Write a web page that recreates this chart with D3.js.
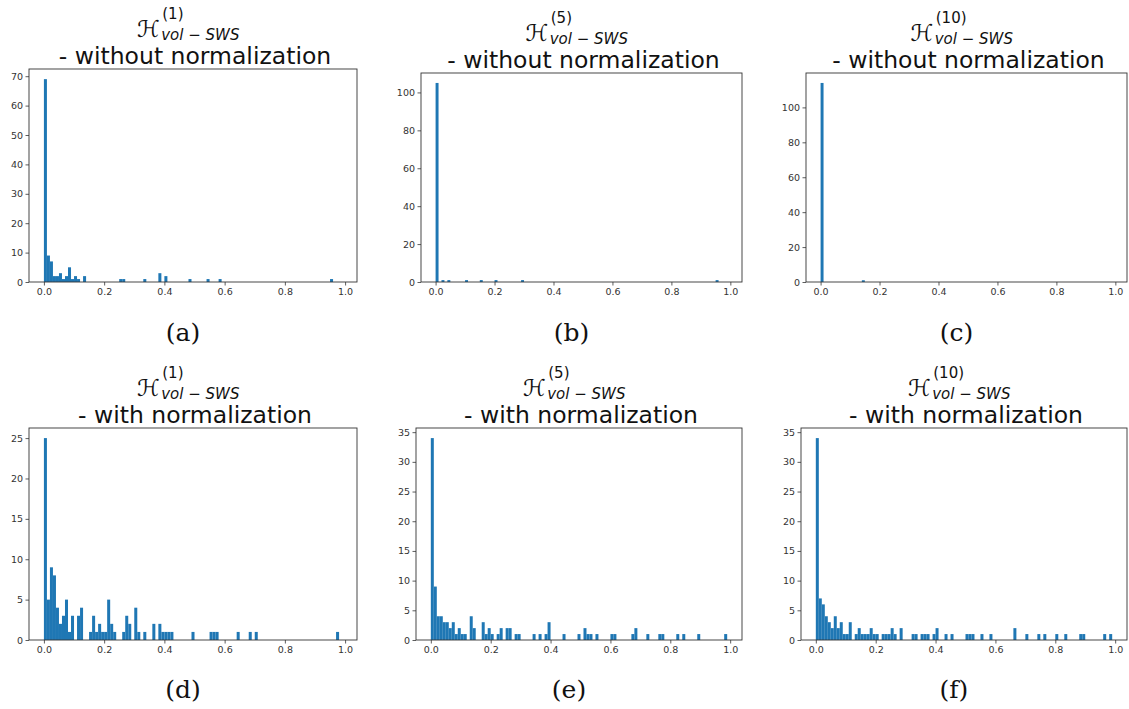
<!DOCTYPE html>
<html><head><meta charset="utf-8">
<script src="https://cdn.jsdelivr.net/npm/d3@7"></script>
<style>body{margin:0;background:#fff}svg{display:block}</style>
</head><body>
<svg id="chart" width="1129" height="709"></svg>
<script>
// ---------- data (bin left edges and counts; bins are 0.01 wide) ----------
const binWidth = 0.01;
const xTicks = [0.0, 0.2, 0.4, 0.6, 0.8, 1.0];

const aStarts = [0.00,0.01,0.02,0.03,0.04,0.05,0.06,0.07,0.08,0.09,0.10,0.11,0.13,0.25,0.26,0.33,0.38,0.40,0.48,0.54,0.58,0.95];
const aCounts = [69,9,7,2,2,3,1,2,5,1,2,1,2,1,1,1,3,2,1,1,1,1];
const aYTicks = [0,10,20,30,40,50,60,70];

const bStarts = [0.00,0.02,0.04,0.10,0.15,0.20,0.29,0.95];
const bCounts = [105,1,1,1,1,1,1,1];
const bYTicks = [0,20,40,60,80,100];

const cStarts = [0.00,0.14];
const cCounts = [114,1];
const cYTicks = [0,20,40,60,80,100];

const dStarts = [0.00,0.01,0.02,0.03,0.04,0.05,0.06,0.07,0.08,0.09,0.11,0.12,0.15,0.16,0.17,0.18,0.19,0.20,0.21,0.22,0.23,0.26,0.27,0.28,0.30,0.31,0.33,0.36,0.38,0.39,0.40,0.41,0.42,0.49,0.55,0.56,0.57,0.64,0.68,0.70,0.97];
const dCounts = [25,5,9,8,4,2,3,5,1,3,3,4,1,3,1,2,1,1,5,2,1,1,3,2,4,1,1,2,2,1,1,1,1,1,1,1,1,1,1,1,1];
const dYTicks = [0,5,10,15,20,25];

const eStarts = [0.00,0.01,0.02,0.03,0.04,0.05,0.06,0.07,0.08,0.09,0.10,0.11,0.13,0.14,0.17,0.18,0.19,0.20,0.22,0.23,0.25,0.26,0.28,0.29,0.34,0.36,0.38,0.39,0.44,0.49,0.51,0.52,0.53,0.55,0.60,0.61,0.67,0.68,0.72,0.76,0.77,0.82,0.84,0.89,0.98];
const eCounts = [34,9,4,4,3,3,2,3,1,2,1,1,4,2,3,1,2,1,1,2,2,2,1,1,1,1,1,3,1,1,2,1,1,1,1,1,1,2,1,1,1,1,1,1,1];
const eYTicks = [0,5,10,15,20,25,30,35];

const fStarts = [0.00,0.01,0.02,0.03,0.04,0.05,0.06,0.07,0.08,0.09,0.10,0.11,0.13,0.14,0.15,0.16,0.17,0.18,0.19,0.20,0.22,0.23,0.24,0.25,0.26,0.28,0.32,0.33,0.35,0.36,0.37,0.39,0.40,0.43,0.45,0.50,0.51,0.52,0.55,0.58,0.66,0.70,0.74,0.76,0.80,0.83,0.88,0.89,0.96,0.98];
const fCounts = [34,7,6,4,3,2,4,2,3,1,1,3,1,2,1,1,1,2,1,1,1,1,1,2,1,2,1,1,1,1,1,1,2,1,1,1,1,1,1,1,2,1,1,1,1,1,1,1,1,1];
const fYTicks = [0,5,10,15,20,25,30,35];

const supLabels = ["(1)","(5)","(10)","(1)","(5)","(10)"];
const subLabel = "vol \u2212 SWS";
const line2Labels = ["- without normalization","- without normalization","- without normalization",
                     "- with normalization","- with normalization","- with normalization"];
const captions = ["(a)","(b)","(c)","(d)","(e)","(f)"];

// ---------- layout ----------
const layout = [
  {l:29,  r:357,  t:69,  b:282, capY:341},
  {l:421, r:742,  t:73,  b:282, capY:341},
  {l:806, r:1127, t:73,  b:282, capY:341},
  {l:29,  r:357,  t:428, b:640, capY:698},
  {l:416, r:742,  t:428, b:640, capY:698},
  {l:801, r:1127, t:428, b:640, capY:698}
];
const series = [
  {starts:aStarts, counts:aCounts, yt:aYTicks},
  {starts:bStarts, counts:bCounts, yt:bYTicks},
  {starts:cStarts, counts:cCounts, yt:cYTicks},
  {starts:dStarts, counts:dCounts, yt:dYTicks},
  {starts:eStarts, counts:eCounts, yt:eYTicks},
  {starts:fStarts, counts:fCounts, yt:fYTicks}
];

const svg = d3.select("#chart");
svg.append("rect").attr("width",1129).attr("height",709).attr("fill","#fff");

series.forEach((s, i) => {
  const L = layout[i];
  const g = svg.append("g");
  const x = d3.scaleLinear().domain([-0.0495, 1.0395]).range([L.l, L.r]);
  const ymax = d3.max(s.counts) * 1.05;
  const y = d3.scaleLinear().domain([0, ymax]).range([L.b, L.t]);

  const bins = s.starts.map((st, k) => ({x0: st, x1: st + binWidth, n: s.counts[k]}));
  g.selectAll("rect.bar").data(bins).enter().append("rect")
    .attr("class","bar")
    .attr("x", d => x(d.x0))
    .attr("width", d => x(d.x1) - x(d.x0))
    .attr("y", d => y(d.n))
    .attr("height", d => y(0) - y(d.n))
    .attr("fill", "#1f77b4");

  const xa = g.append("g").attr("transform", `translate(0,${L.b})`)
    .call(d3.axisBottom(x).tickValues(xTicks).tickFormat(d3.format(".1f")).tickSize(3.5).tickPadding(2.5));
  const ya = g.append("g").attr("transform", `translate(${L.l},0)`)
    .call(d3.axisLeft(y).tickValues(s.yt).tickFormat(d3.format("d")).tickSize(3.5).tickPadding(2.5));
  [xa, ya].forEach(a => {
    a.select(".domain").remove();
    a.selectAll("line").attr("stroke","#333").attr("stroke-width",0.8);
    a.selectAll("text").attr("fill","#333").style("font-family","'DejaVu Sans'").style("font-size","9.5px");
  });

  g.append("rect").attr("x", L.l).attr("y", L.t).attr("width", L.r - L.l).attr("height", L.b - L.t)
    .attr("fill","none").attr("stroke","#333").attr("stroke-width",0.9);

  const cx = (L.l + L.r) / 2;
  // math title line: calligraphic H with superscript and subscript
  const hx = cx - 56;
  const H = g.append("text").attr("x", hx).attr("y", L.t - 32)
    .style("font-family","'DejaVu Sans'").style("font-size","23px").attr("fill","#111").text("\u210B");
  const hw = H.node().getBBox().width;
  const sx = hx + Math.max(hw, 14) + 1.5;
  g.append("text").attr("x", sx + 1).attr("y", L.t - 50)
    .style("font-family","'DejaVu Sans'").style("font-size","15px").attr("fill","#111").text(supLabels[i]);
  g.append("text").attr("x", sx).attr("y", L.t - 29)
    .style("font-family","'DejaVu Sans'").style("font-style","italic").style("font-size","15px").attr("fill","#111").text(subLabel);
  // second title line
  g.append("text").attr("x", cx + 2).attr("y", L.t - 5).attr("text-anchor","middle")
    .style("font-family","'DejaVu Sans'").style("font-size","23.5px").attr("fill","#111").text(line2Labels[i]);
  // caption
  g.append("text").attr("x", cx - 10).attr("y", L.capY).attr("text-anchor","middle")
    .style("font-family","'DejaVu Serif'").style("font-size","25px").attr("fill","#111").text(captions[i]);
});
</script>
</body></html>
